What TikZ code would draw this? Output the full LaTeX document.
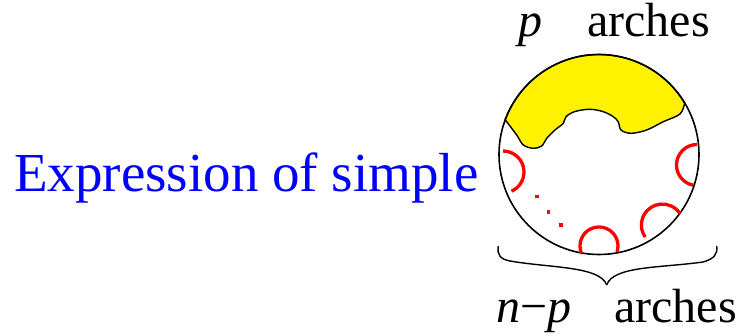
\documentclass[tikz,border=0pt]{standalone}
\usepackage{fontspec}
\setmainfont{Liberation Serif}
\begin{document}
\begin{tikzpicture}[x=1pt,y=-1pt,
  bigtext/.style={inner sep=0pt, font=\fontsize{55}{60}\selectfont, text=blue},
  labtext/.style={inner sep=0pt, font=\fontsize{48}{52}\selectfont},
  archline/.style={red, line width=3.3pt},
  dotmark/.style={fill=red, minimum size=3.6pt, inner sep=0pt},
  outline/.style={black, line width=1.6pt},
  bracepath/.style={black, line width=1.4pt}]
\useasboundingbox (0,0) rectangle (742,336);
% yellow region
\filldraw[fill=yellow, draw=black, line width=1.4pt]
  (684.7,103) arc[start angle=-31, end angle=-159.7, radius=100]
  -- plot[smooth, tension=0.55] coordinates {(505.2,119.8) (516.7,135) (523.3,145) (533.3,148.3) (541.7,146) (546.7,138.3) (555,130) (563.3,123.3) (566,116.7) (575,111.5) (590,109.3) (603.3,111.7) (613.3,116.7) (618.3,122) (621,130) (631,133.3) (646.7,130) (663.3,121.7) (680,114) (684.7,103)} -- cycle;
% disk
\node[draw, outline, circle, minimum size=200pt, inner sep=0pt] (disk) at (599,154.5) {};
% red arches
\draw[archline] (503,151) arc[start angle=-90, end angle=66, radius=21];
\draw[archline] (697,144.5) arc[start angle=270, end angle=100, radius=20.5];
\draw[archline] (645.2,237.1) arc[start angle=145, end angle=327, radius=21];
\draw[archline] (581.5,253.4) arc[start angle=157, end angle=378, radius=19];
% dots
\node[dotmark] (d1) at (536.7,196.7) {};
\node[dotmark] (d2) at (548.3,212.3) {};
\node[dotmark] (d3) at (561,225) {};
% brace
\coordinate (btip) at (606.7,285);
\draw[bracepath] (498.3,246) .. controls (497,255) and (500,259) .. (510,261)
  .. controls (550,268) and (600,266) .. (btip);
\draw[bracepath] (btip) .. controls (613,266) and (660,268) .. (703,262)
  .. controls (714,259) and (718,254) .. (716.7,246);
% texts
\node[bigtext, anchor=base west] (expr) at (14,191.7) {Expression of simple};
\node[labtext, anchor=base west] (ptop) at (518,37) {\textit{p}};
\node[labtext, anchor=base west] (atop) at (587,37) {arches};
\node[labtext, anchor=base west] (nbot) at (496,323) {\textit{n}−\textit{p}};
\node[labtext, anchor=base west] (abot) at (614,323) {arches};
\end{tikzpicture}
\end{document}
